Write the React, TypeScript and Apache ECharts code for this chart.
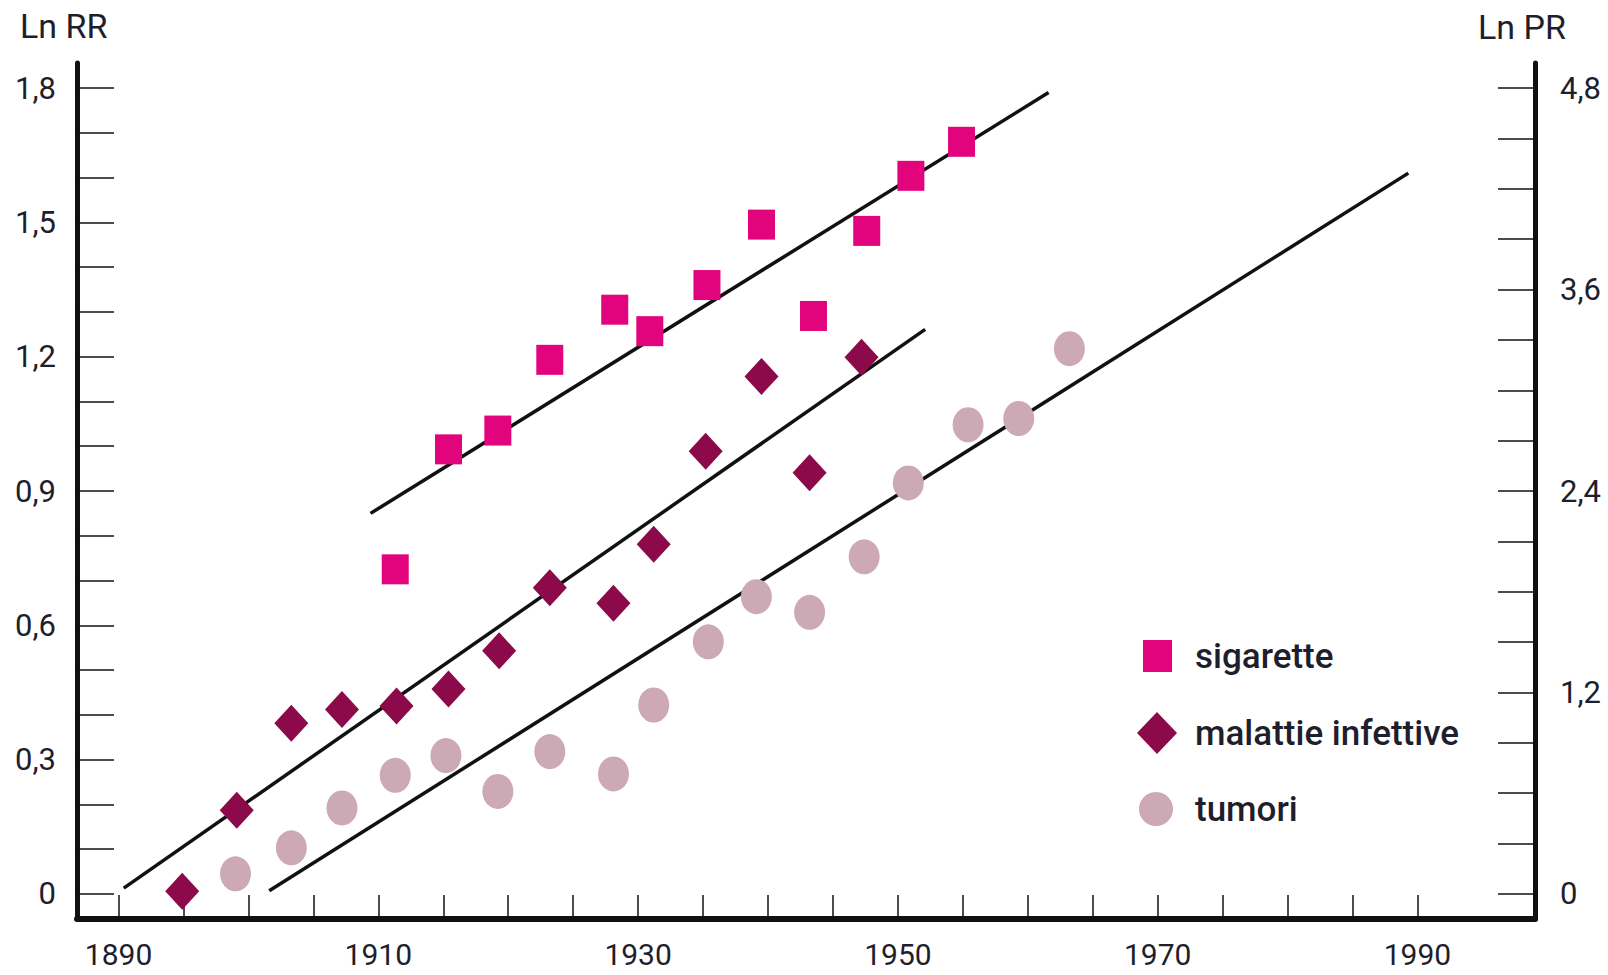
import React, { useEffect, useRef } from "react";
import * as echarts from "echarts";

// Cohort years and log relative risk per series
const sigaretteYears = [1911.3, 1915.4, 1919.2, 1923.2, 1928.2, 1930.9, 1935.3, 1939.5, 1943.5, 1947.6, 1951.0, 1954.9];
const sigaretteValues = [0.725, 0.993, 1.035, 1.193, 1.305, 1.257, 1.36, 1.495, 1.291, 1.481, 1.604, 1.68];

const malattieYears = [1894.9, 1899.1, 1903.3, 1907.2, 1911.4, 1915.4, 1919.3, 1923.2, 1928.1, 1931.2, 1935.2, 1939.5, 1943.2, 1947.2];
const malattieValues = [0.006, 0.187, 0.381, 0.412, 0.42, 0.458, 0.543, 0.684, 0.649, 0.781, 0.989, 1.156, 0.941, 1.199];

const tumoriYears = [1899.0, 1903.3, 1907.2, 1911.3, 1915.2, 1919.2, 1923.2, 1928.1, 1931.2, 1935.4, 1939.1, 1943.2, 1947.4, 1950.8, 1955.4, 1959.3, 1963.2];
const tumoriValues = [0.045, 0.103, 0.192, 0.265, 0.309, 0.229, 0.318, 0.268, 0.422, 0.563, 0.664, 0.629, 0.753, 0.918, 1.048, 1.062, 1.218];

// Fitted trend lines: [start, end] as [year, value]
const sigaretteTrend = [[1909.4, 0.85], [1961.6, 1.79]];
const malattieTrend = [[1890.4, 0.013], [1952.1, 1.261]];
const tumoriTrend = [[1901.6, 0.007], [1989.3, 1.61]];

// Axis ticks and labels
const yearTicks = [1890, 1895, 1900, 1905, 1910, 1915, 1920, 1925, 1930, 1935, 1940, 1945, 1950, 1955, 1960, 1965, 1970, 1975, 1980, 1985, 1990];
const yearLabels = [1890, 1910, 1930, 1950, 1970, 1990];
const rrTicks = [0, 0.1, 0.2, 0.3, 0.4, 0.5, 0.6, 0.7, 0.8, 0.9, 1.0, 1.1, 1.2, 1.3, 1.4, 1.5, 1.6, 1.7, 1.8];
const rrLabels = [0, 0.3, 0.6, 0.9, 1.2, 1.5, 1.8];
const prTicks = [0, 0.3, 0.6, 0.9, 1.2, 1.5, 1.8, 2.1, 2.4, 2.7, 3.0, 3.3, 3.6, 3.9, 4.2, 4.5, 4.8];
const prLabels = [0, 1.2, 2.4, 3.6, 4.8];

const COL_SIG = "#e2047c";
const COL_MAL = "#8c0a49";
const COL_TUM = "#cda9b6";
const INK = "#111111";
const TEXT = "#1e1e2c";
const FONT = "Roboto, 'Liberation Sans', sans-serif";

const pairs = (xs: number[], ys: number[]) => xs.map((x, i) => [x, ys[i]]);
const comma = (v: number) => (v === 0 ? "0" : v.toFixed(1).replace(".", ","));

export default function App() {
  const ref = useRef<HTMLDivElement>(null);

  useEffect(() => {
    if (!ref.current) return;
    const chart = echarts.init(ref.current, undefined, { renderer: "svg" });

    const legendText = (pad: number) => ({
      fontSize: 35,
      fontWeight: 500,
      fontFamily: FONT,
      color: TEXT,
      padding: [0, 0, 0, pad],
    });

    chart.setOption({
      animation: false,
      backgroundColor: "#ffffff",
      grid: { left: 77, right: 73, top: 63, bottom: 56, containLabel: false },
      xAxis: {
        type: "value",
        min: 1886.8,
        max: 1999.05,
        splitLine: { show: false },
        axisLine: { onZero: false, lineStyle: { color: INK, width: 6 } },
        axisTick: { inside: true, length: 24, customValues: yearTicks, lineStyle: { color: INK, width: 1.5 } },
        axisLabel: {
          customValues: yearLabels,
          margin: 20,
          fontSize: 30,
          fontFamily: FONT,
          color: TEXT,
          formatter: (v: number) => String(v),
        },
      },
      yAxis: [
        {
          type: "value",
          position: "left",
          min: -0.056,
          max: 1.856,
          splitLine: { show: false },
          axisLine: { show: true, onZero: false, lineStyle: { color: INK, width: 5 } },
          axisTick: { inside: true, length: 37, customValues: rrTicks, lineStyle: { color: INK, width: 1.5 } },
          axisLabel: {
            customValues: rrLabels,
            margin: 21,
            fontSize: 31,
            fontFamily: FONT,
            color: TEXT,
            formatter: comma,
          },
        },
        {
          type: "value",
          position: "right",
          min: -0.14933,
          max: 4.94933,
          splitLine: { show: false },
          axisLine: { show: true, onZero: false, lineStyle: { color: INK, width: 5 } },
          axisTick: { inside: true, length: 37, customValues: prTicks, lineStyle: { color: INK, width: 1.5 } },
          axisLabel: {
            customValues: prLabels,
            margin: 25,
            fontSize: 31,
            fontFamily: FONT,
            color: TEXT,
            formatter: comma,
          },
        },
      ],
      legend: [
        {
          data: [{ name: "sigarette", icon: "rect" }],
          left: 1143,
          top: 638.5,
          padding: 0,
          itemWidth: 29,
          itemHeight: 32,
          textStyle: legendText(18),
        },
        {
          data: [{ name: "malattie infettive", icon: "diamond" }],
          left: 1137,
          top: 712,
          padding: 0,
          itemWidth: 40,
          itemHeight: 42,
          textStyle: legendText(13),
        },
        {
          data: [{ name: "tumori", icon: "circle" }],
          left: 1139,
          top: 791.5,
          padding: 0,
          itemWidth: 34,
          itemHeight: 35,
          textStyle: legendText(17),
        },
      ],
      graphic: [
        {
          type: "text",
          x: 20,
          y: 26,
          style: { text: "Ln RR", fontSize: 34, fontFamily: FONT, fill: TEXT, align: "left", verticalAlign: "middle" },
        },
        {
          type: "text",
          x: 1478,
          y: 27,
          style: { text: "Ln PR", fontSize: 34, fontFamily: FONT, fill: TEXT, align: "left", verticalAlign: "middle" },
        },
      ],
      series: [
        {
          type: "line",
          name: "trend sigarette",
          data: sigaretteTrend,
          showSymbol: false,
          silent: true,
          lineStyle: { color: INK, width: 3.5 },
          z: 1,
        },
        {
          type: "line",
          name: "trend malattie",
          data: malattieTrend,
          showSymbol: false,
          silent: true,
          lineStyle: { color: INK, width: 3.5 },
          z: 1,
        },
        {
          type: "line",
          name: "trend tumori",
          data: tumoriTrend,
          showSymbol: false,
          silent: true,
          lineStyle: { color: INK, width: 3.5 },
          z: 1,
        },
        {
          type: "scatter",
          name: "tumori",
          data: pairs(tumoriYears, tumoriValues),
          symbol: "circle",
          symbolSize: [31, 35],
          itemStyle: { color: COL_TUM, opacity: 1 },
          z: 2,
        },
        {
          type: "scatter",
          name: "malattie infettive",
          data: pairs(malattieYears, malattieValues),
          symbol: "diamond",
          symbolSize: [34, 37],
          itemStyle: { color: COL_MAL, opacity: 1 },
          z: 3,
        },
        {
          type: "scatter",
          name: "sigarette",
          data: pairs(sigaretteYears, sigaretteValues),
          symbol: "rect",
          symbolSize: [27, 30],
          itemStyle: { color: COL_SIG, opacity: 1 },
          z: 4,
        },
      ],
    });

    return () => chart.dispose();
  }, []);

  return (
    <div
      ref={ref}
      style={{ position: "absolute", left: 0, top: 0, width: 1608, height: 975, background: "#fff" }}
    />
  );
}
